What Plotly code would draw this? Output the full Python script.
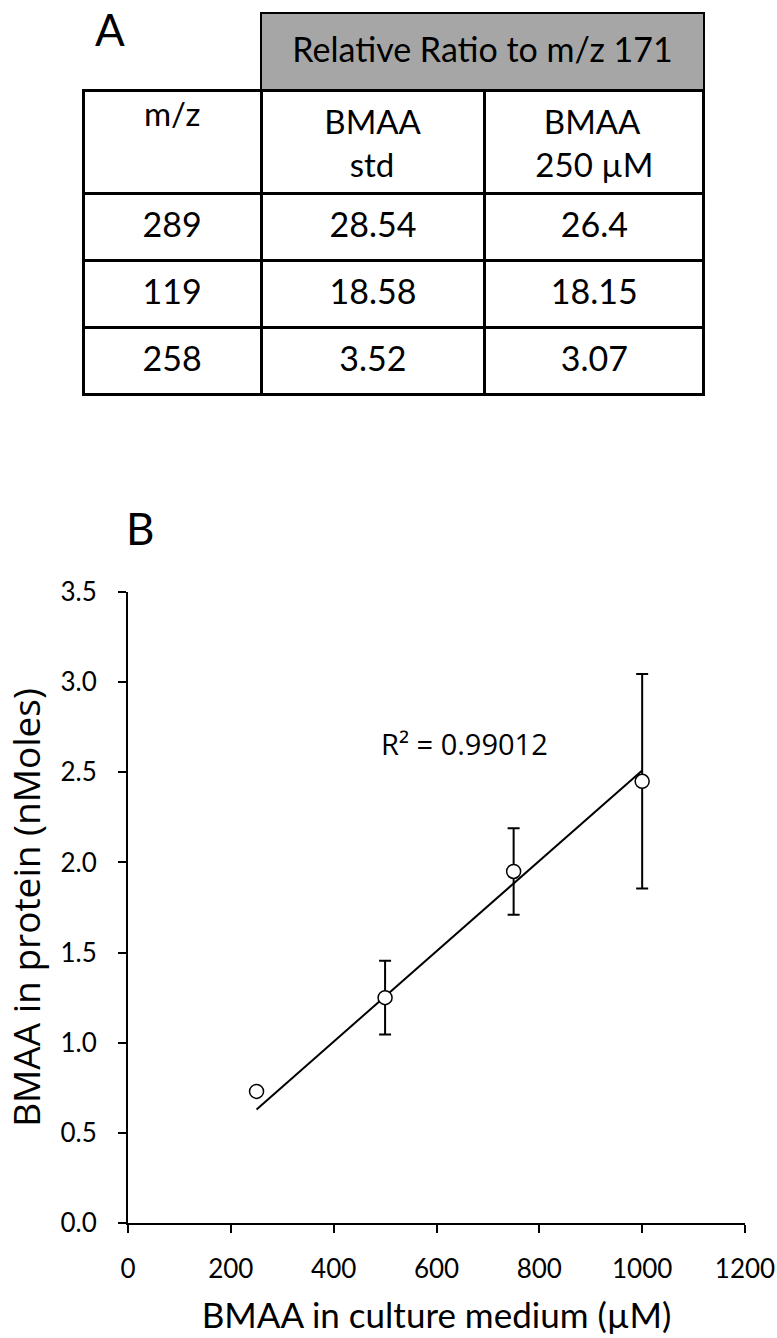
import plotly.graph_objects as go

# panel A table
group_header = ["Relative Ratio to m/z 171"]
col_headers = ["m/z", "BMAA<br>\u00a0\u00a0\u00a0std", "\u00a0BMAA<br>250 µM"]
mz = ["289", "119", "258"]
bmaa_std = ["28.54", "18.58", "3.52"]
bmaa_250 = ["26.4", "18.15", "3.07"]

# panel B scatter
medium_um = [250, 500, 750, 1000]
protein_nmol = [0.73, 1.25, 1.95, 2.45]
protein_err = [0, 0.205, 0.24, 0.595]
trend_x = [250, 1000]
trend_y = [0.63, 2.51]
r2_text = "R² = 0.99012"

W, H = 777, 1338
TABFONT = "Lato"
CLEAR = "rgba(0,0,0,0)"


def px(x):
    return x / W


def py(y):
    return 1 - y / H


fig = go.Figure()

# gray merged header box over the two BMAA columns
fig.add_trace(go.Table(
    domain=dict(x=[px(261), px(704)], y=[py(120), py(13)]),
    header=dict(values=[""], fill_color="#a6a6a6",
                line=dict(color="black", width=2), height=77,
                font=dict(family=TABFONT, size=20, color="black")),
    cells=dict(values=[[]], height=1, line=dict(width=0), fill_color=CLEAR)
))
# its label, set a little lower in the box (table text is top aligned)
fig.add_trace(go.Table(
    domain=dict(x=[px(261), px(704)], y=[py(120), py(28)]),
    header=dict(values=group_header, fill_color=CLEAR,
                line=dict(width=0), height=50,
                font=dict(family=TABFONT, size=34, color="black"),
                align="center"),
    cells=dict(values=[[]], height=1, line=dict(width=0), fill_color=CLEAR)
))

# main grid: one empty cell per value, the text goes in the overlay below
blank = [[""] * len(mz) for _ in range(3)]
fig.add_trace(go.Table(
    domain=dict(x=[px(83), px(704)], y=[py(500), py(90)]),
    columnwidth=[178, 223, 219],
    header=dict(values=[""] * len(col_headers), fill_color="white",
                line=dict(color="black", width=3), height=103,
                font=dict(family=TABFONT, size=20)),
    cells=dict(values=blank, fill_color="white",
               line=dict(color="black", width=3), height=67,
               font=dict(family=TABFONT, size=20))
))
fig.add_trace(go.Table(
    domain=dict(x=[px(83), px(704)], y=[py(520), py(93)]),
    columnwidth=[178, 223, 219],
    header=dict(values=col_headers, fill_color=CLEAR,
                line=dict(width=0), height=110,
                font=dict(family=TABFONT, size=33, color="black"),
                align="center"),
    cells=dict(values=[mz, bmaa_std, bmaa_250], fill_color=CLEAR,
               line=dict(width=0), height=67,
               font=dict(family=TABFONT, size=34, color="black"),
               align="center")
))

fig.add_trace(go.Scatter(
    x=trend_x, y=trend_y, mode="lines",
    line=dict(color="black", width=2), showlegend=False,
    hoverinfo="skip"
))

fig.add_trace(go.Scatter(
    x=medium_um, y=protein_nmol, mode="markers",
    marker=dict(symbol="circle", size=14, color="white",
                line=dict(color="black", width=1.5)),
    error_y=dict(type="data", array=protein_err, visible=True,
                 color="black", thickness=2, width=6),
    showlegend=False
))

fig.update_layout(
    width=W, height=H,
    margin=dict(l=0, r=0, t=0, b=0, pad=0),
    paper_bgcolor="white", plot_bgcolor="white",
    xaxis=dict(domain=[px(128), px(745)], range=[0, 1200], dtick=200,
               automargin=False,
               showgrid=False, zeroline=False, showline=True,
               linecolor="black", linewidth=2, ticks="outside",
               ticklen=8, tickwidth=2, tickcolor="black",
               ticklabelstandoff=14,
               tickfont=dict(family="Lato", size=26, color="black"),
               title=dict(text="BMAA in culture medium (µM)", standoff=20,
                          font=dict(family=TABFONT, size=35, color="black"))),
    yaxis=dict(domain=[py(1223), py(592)], range=[0, 3.5], dtick=0.5,
               tickformat=".1f", automargin=False,
               showgrid=False, zeroline=False, showline=True,
               linecolor="black", linewidth=2, ticks="outside",
               ticklen=8, tickwidth=2, tickcolor="black",
               ticklabelstandoff=16,
               tickfont=dict(family="Lato", size=26, color="black"),
               title=dict(text="BMAA in protein (nMoles)", standoff=10,
                          font=dict(family="Open Sans", size=37, color="black"))),
    annotations=[
        dict(text="A", x=px(110), y=py(29), xref="paper", yref="paper",
             xanchor="center", yanchor="middle", showarrow=False,
             font=dict(family=TABFONT, size=44, color="black")),
        dict(text="B", x=px(140), y=py(528), xref="paper", yref="paper",
             xanchor="center", yanchor="middle", showarrow=False,
             font=dict(family=TABFONT, size=44, color="black")),
        dict(text=r2_text, x=655, y=2.66, xref="x", yref="y",
             showarrow=False, font=dict(family="Open Sans", size=29, color="black")),
    ]
)

# drop the page's default body margin so the figure fills the window exactly
fig.write_html("out.html", config={"displayModeBar": False},
               post_script="document.body.style.margin = '0';")
